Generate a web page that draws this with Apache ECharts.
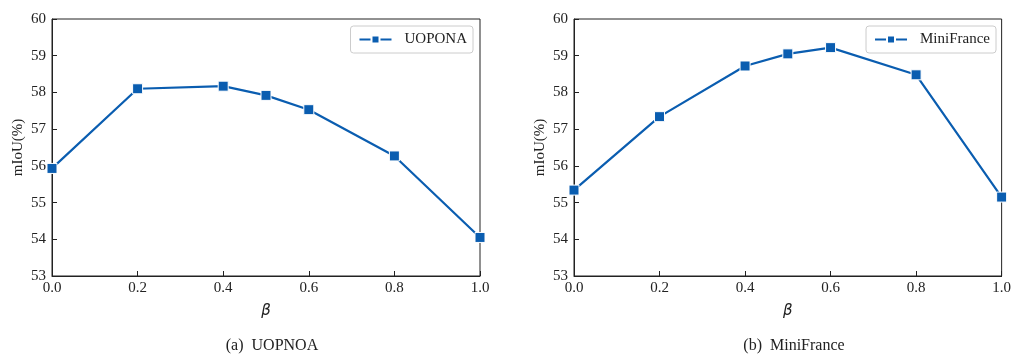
<!DOCTYPE html>
<html>
<head>
<meta charset="utf-8">
<script src="https://cdn.jsdelivr.net/npm/echarts@6/dist/echarts.min.js"></script>
<style>
  html, body { margin: 0; padding: 0; background: #fff; }
  #chart { width: 1014px; height: 359px; }
</style>
</head>
<body>
<div id="chart"></div>
<script>
// beta values on x axis
const betas = [0.0, 0.2, 0.4, 0.5, 0.6, 0.8, 1.0];
// mIoU
const uoponaMiou = [55.93, 58.10, 58.17, 57.92, 57.53, 56.27, 54.05];
const miniFranceMiou = [55.34, 57.34, 58.72, 59.05, 59.22, 58.48, 55.15];
const seriesNames = ['UOPONA', 'MiniFrance'];
const captions = ['(a)  UOPNOA', '(b)  MiniFrance'];

const lineColor = '#0a5db0';
const font = 'Liberation Serif';

const chart = echarts.init(document.getElementById('chart'));

const grids = [
  {left: 52, top: 19, width: 428, height: 257},
  {left: 574, top: 19, width: 429, height: 257}
];

function makeX(idx) {
  return {
    gridIndex: idx, type: 'value', min: 0, max: 1, interval: 0.2,
    name: 'β', nameLocation: 'middle', nameGap: 28,
    nameTextStyle: {fontFamily: 'DejaVu Sans', fontStyle: 'italic', fontSize: 15, color: '#222'},
    axisLine: {show: true, lineStyle: {color: '#222', width: 1}},
    axisTick: {show: true, inside: true, length: 5, lineStyle: {color: '#222'}},
    axisLabel: {fontFamily: font, fontSize: 15, color: '#222', margin: 5,
      formatter: v => v.toFixed(1)},
    splitLine: {show: false}
  };
}
function makeY(idx) {
  return {
    gridIndex: idx, type: 'value', min: 53, max: 60, interval: 1,
    name: 'mIoU(%)', nameLocation: 'middle', nameGap: 26,
    nameTextStyle: {fontFamily: font, fontSize: 15, color: '#222'},
    axisLine: {show: true, lineStyle: {color: '#222', width: 1}},
    axisTick: {show: true, inside: true, length: 5, lineStyle: {color: '#222'}},
    axisLabel: {fontFamily: font, fontSize: 15, color: '#222', margin: 6},
    splitLine: {show: false}
  };
}

function makeSeries(name, vals, idx) {
  return {
    name: name, type: 'line', xAxisIndex: idx, yAxisIndex: idx,
    data: betas.map((b, i) => [b, vals[i]]),
    symbol: 'rect', symbolSize: 10,
    lineStyle: {color: lineColor, width: 2.2},
    itemStyle: {color: lineColor, borderColor: '#fff', borderWidth: 1},
    clip: false
  };
}

chart.setOption({
  animation: false,
  grid: grids.map(g => Object.assign({show: true, borderColor: '#222', borderWidth: 1}, g)),
  xAxis: [makeX(0), makeX(1)],
  yAxis: [makeY(0), makeY(1)],
  legend: [
    {data: [seriesNames[0]], right: 541, top: 26, orient: 'vertical'},
    {data: [seriesNames[1]], right: 18, top: 26, orient: 'vertical'}
  ].map(l => Object.assign({
    itemWidth: 32, itemHeight: 10, itemGap: 4,
    padding: [6, 6, 6, 8],
    borderColor: '#ccc', borderWidth: 1, borderRadius: 3,
    textStyle: {fontFamily: font, fontSize: 15, color: '#222', padding: [0, 0, 0, 8]}
  }, l)),
  title: [
    {text: captions[0], left: 267, top: 333, textAlign: 'center'},
    {text: captions[1], left: 789, top: 333, textAlign: 'center'}
  ].map(t => Object.assign({textStyle: {fontFamily: font, fontSize: 16, fontWeight: 'normal', color: '#222'}}, t)),
  series: [makeSeries(seriesNames[0], uoponaMiou, 0), makeSeries(seriesNames[1], miniFranceMiou, 1)]
});
</script>
</body>
</html>
